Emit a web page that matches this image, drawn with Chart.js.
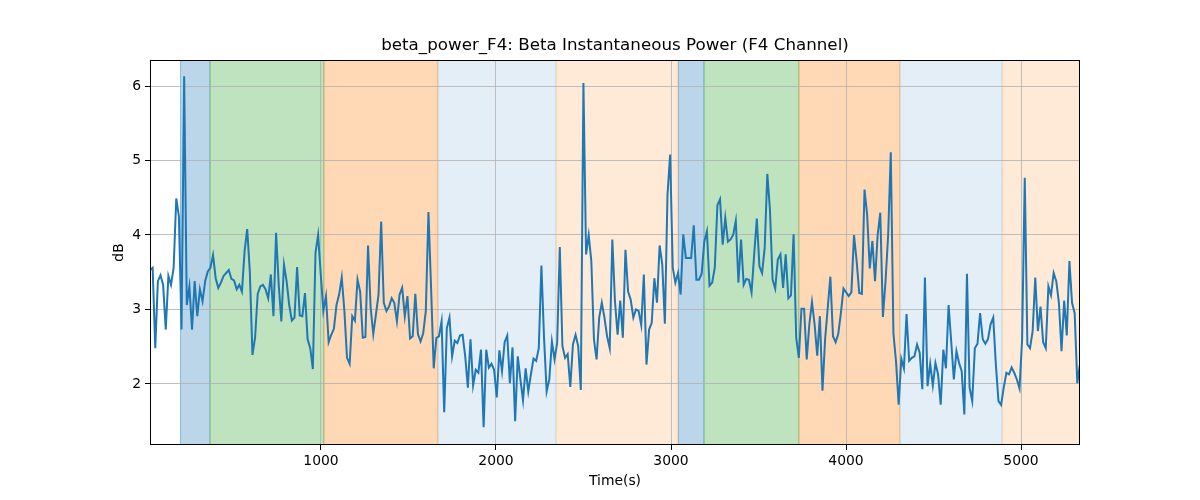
<!DOCTYPE html>
<html>
<head>
<meta charset="utf-8">
<script src="https://cdn.jsdelivr.net/npm/chart.js@4"></script>
<style>
body{margin:0;background:#fff;}
</style>
</head>
<body>
<canvas id="betaChart" width="1200" height="500"></canvas>
<script>
const startTime = 23;
const sampleStep = 15.01;

const betaPower = [
3.53,3.56,2.48,3.38,3.46,3.33,2.73,3.45,3.33,3.56,4.49,4.25,2.73,6.13,3.06,3.31,2.73,3.38,2.91,3.27,3.11,3.38,3.51,3.56,3.73,3.42,3.29,3.36,3.45,3.49,3.53,3.41,3.39,3.27,3.33,3.24,3.78,4.08,3.51,2.39,2.62,3.21,3.31,3.33,3.27,3.15,
3.47,2.91,4.03,3.33,2.84,3.60,3.38,3.06,2.85,2.89,3.57,2.92,2.91,3.22,2.60,2.48,2.20,3.76,4.00,3.47,2.98,3.18,2.56,2.66,2.74,3.06,3.20,3.43,2.98,2.35,2.27,2.91,2.85,3.40,3.24,2.62,2.63,3.86,3.02,2.67,2.93,3.20,4.18,3.09,2.98,
3.04,3.15,3.09,2.84,3.20,3.29,2.91,3.18,2.61,2.64,3.21,2.67,2.57,2.68,2.98,4.31,3.29,2.21,2.62,2.64,2.84,1.62,2.75,2.89,2.37,2.58,2.55,2.65,2.66,2.37,1.95,2.60,1.98,2.19,2.15,2.46,1.42,2.46,2.22,2.27,2.19,1.82,2.45,2.17,
2.56,2.65,2.01,2.49,1.50,2.37,2.06,1.78,2.21,1.90,2.13,2.34,2.31,2.48,3.59,2.62,1.90,2.06,2.57,2.33,2.55,3.84,2.51,2.35,2.40,1.96,2.53,2.66,2.51,1.92,6.04,3.74,4.00,3.65,2.60,2.33,2.89,3.09,2.89,2.64,2.48,3.94,3.11,2.66,3.12,
2.62,3.80,3.24,3.13,2.89,3.00,2.98,2.79,3.47,2.26,2.73,2.82,3.42,3.09,3.86,3.61,2.81,4.54,5.08,3.56,3.36,3.49,3.20,4.01,3.69,3.69,3.69,4.13,3.40,3.40,3.48,3.91,4.05,3.32,3.36,3.56,4.40,4.48,3.87,4.23,3.91,3.94,4.00,4.19,
3.36,3.94,3.33,3.41,3.40,3.23,3.74,4.22,3.58,3.49,3.83,4.82,4.34,3.40,3.28,3.67,3.74,3.29,3.74,3.15,3.19,4.01,2.62,2.35,3.01,3.01,2.33,2.80,3.10,2.80,2.38,2.91,1.91,2.60,3.02,3.44,2.64,2.56,2.67,2.95,3.28,3.23,3.18,3.23,
4.00,3.65,3.22,3.21,4.61,4.27,3.55,3.92,3.38,4.00,4.30,2.90,3.38,4.00,5.11,2.68,2.30,1.72,2.34,2.21,2.94,2.31,2.35,2.37,2.53,2.42,1.93,3.43,1.97,2.27,1.98,2.28,2.13,1.72,2.46,2.21,3.06,2.57,2.06,2.44,2.28,2.17,1.59,3.48,1.95,
1.77,2.48,2.54,2.95,2.60,2.54,2.60,2.80,2.89,2.26,1.77,1.72,1.95,2.15,2.13,2.22,2.15,2.06,1.94,2.60,4.77,2.53,2.48,2.71,3.43,2.71,3.04,2.56,2.48,3.31,3.19,3.49,3.38,3.09,2.44,3.12,2.65,3.65,3.09,2.95,2.01,2.26
];

const spanStarts = [195,366,1017,1669,2343,3040,3189,3732,4309,4892];
const spanEnds   = [366,1017,1669,2343,3040,3189,3732,4309,4892,5337];
const spanColors = [
"rgba(31,119,180,0.3)","rgba(44,160,44,0.3)","rgba(255,127,14,0.3)","rgba(31,119,180,0.12)","rgba(255,127,14,0.16)",
"rgba(31,119,180,0.3)","rgba(44,160,44,0.3)","rgba(255,127,14,0.3)","rgba(31,119,180,0.12)","rgba(255,127,14,0.16)"
];

const xTicks = [1000,2000,3000,4000,5000];
const yTicks = [2,3,4,5,6];

const points = betaPower.map((v,i)=>({x:startTime+i*sampleStep,y:v}));

const font = "DejaVu Sans";

const bgPlugin = {
id:"bg",
beforeDraw(chart){
const c = chart.ctx, a = chart.chartArea, xs = chart.scales.x;
c.save();
c.fillStyle="#fff";
c.fillRect(0,0,chart.width,chart.height);
for(let i=0;i<spanStarts.length;i++){
let x1 = Math.max(xs.getPixelForValue(spanStarts[i]),a.left);
let x2 = Math.min(xs.getPixelForValue(spanEnds[i]),a.right);
c.fillStyle=spanColors[i];
c.fillRect(x1,a.top,x2-x1,a.bottom-a.top);
c.strokeStyle=spanColors[i];
c.lineWidth=1;
c.beginPath();
c.moveTo(Math.round(x1)+0.5,a.top);c.lineTo(Math.round(x1)+0.5,a.bottom);
if(x2<a.right-1){c.moveTo(Math.round(x2)-0.5,a.top);c.lineTo(Math.round(x2)-0.5,a.bottom);}
c.stroke();
}
c.restore();
},
afterDraw(chart){
const c = chart.ctx, a = chart.chartArea;
c.save();
c.strokeStyle="#000";
c.lineWidth=1;
c.strokeRect(a.left+0.5,a.top+0.5,a.right-a.left-1,a.bottom-a.top-1);
c.fillStyle="#000";
c.textAlign="center";
c.textBaseline="middle";
c.font="16.7px '"+font+"'";
c.fillText("beta_power_F4: Beta Instantaneous Power (F4 Channel)",(a.left+a.right)/2,46);
c.font="13.9px '"+font+"'";
c.fillText("Time(s)",(a.left+a.right)/2,481);
c.translate(119,(a.top+a.bottom)/2);
c.rotate(-Math.PI/2);
c.fillText("dB",0,0);
c.restore();
}
};

const chart = new Chart(document.getElementById("betaChart"),{
type:"line",
data:{
datasets:[{
label:"beta_power_F4",
data:points,
borderColor:"#1f77b4",
borderWidth:2,
pointRadius:0,
tension:0,
fill:false
}]
},
options:{
responsive:false,
animation:false,
layout:{padding:{top:60,right:120,left:0,bottom:0}},
plugins:{legend:{display:false},tooltip:{enabled:false},title:{display:false}},
scales:{
x:{
type:"linear",
min:23,
max:5337,
afterFit(s){s.height=55;},
afterBuildTicks(s){s.ticks=xTicks.map(v=>({value:v}));},
grid:{color:"#b0b0b0",lineWidth:0.8,tickColor:"#000",tickLength:5,tickWidth:1},
border:{display:false},
ticks:{color:"#000",font:{family:font,size:13.9},padding:3,maxRotation:0,callback:v=>String(v)}
},
y:{
min:1.18,
max:6.35,
afterFit(s){s.width=150;},
afterBuildTicks(s){s.ticks=yTicks.map(v=>({value:v}));},
grid:{color:"#b0b0b0",lineWidth:0.8,tickColor:"#000",tickLength:5,tickWidth:1},
border:{display:false},
ticks:{color:"#000",font:{family:font,size:13.9},padding:4,callback:v=>String(v)}
}
}
},
plugins:[bgPlugin]
});
</script>
</body>
</html>
